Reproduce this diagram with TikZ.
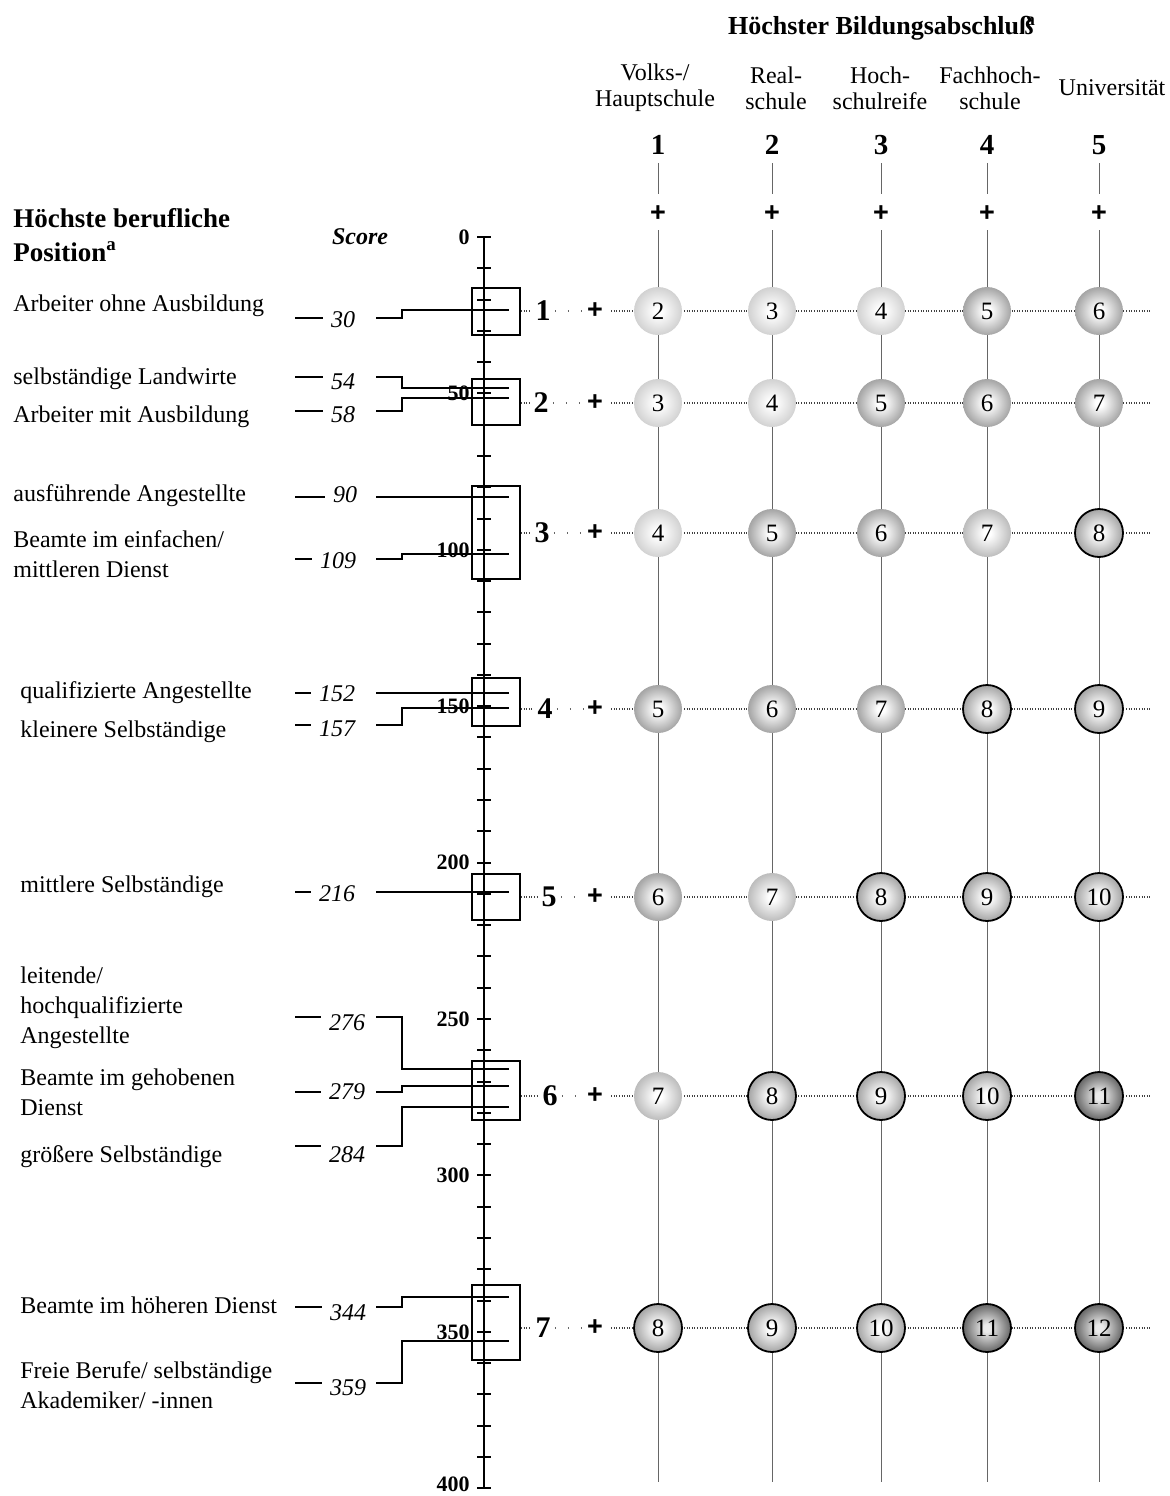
\documentclass[tikz,border=0pt]{standalone}
\usepackage{fontspec}
\setmainfont{Liberation Serif}
\setsansfont{Liberation Sans}

\colorlet{coreA}{white}
\colorlet{coreD}{black!8}
\colorlet{midA}{black!17}
\colorlet{edgeA}{black!33}
\colorlet{midM}{black!25}
\colorlet{edgeM}{black!43}
\colorlet{midB}{black!34}
\colorlet{edgeB}{black!56}
\colorlet{midD}{black!58}
\colorlet{edgeD}{black!88}
\pgfdeclareradialshading{ballA}{\pgfpoint{0bp}{0bp}}{color(0bp)=(coreA); color(4bp)=(coreA); color(24bp)=(midA); color(50bp)=(edgeA)}
\pgfdeclareradialshading{ballM}{\pgfpoint{0bp}{0bp}}{color(0bp)=(coreA); color(4bp)=(coreA); color(24bp)=(midM); color(50bp)=(edgeM)}
\pgfdeclareradialshading{ballB}{\pgfpoint{0bp}{0bp}}{color(0bp)=(coreA); color(4bp)=(coreA); color(24bp)=(midB); color(50bp)=(edgeB)}
\pgfdeclareradialshading{ballD}{\pgfpoint{0bp}{0bp}}{color(0bp)=(coreD); color(4bp)=(coreD); color(24bp)=(midD); color(50bp)=(edgeD)}

\begin{document}
\begin{tikzpicture}[x=0.5pt,y=-0.5pt,
    txt/.style={anchor=west,inner sep=0pt,align=left,font=\fontsize{12}{15}\selectfont},
    head/.style={inner sep=0pt,align=center,font=\fontsize{12}{13}\selectfont},
    colnum/.style={inner sep=0pt,font=\fontsize{14.5}{15}\selectfont\bfseries},
    grpnum/.style={inner sep=2pt,font=\fontsize{15}{15}\selectfont\bfseries},
    plus/.style={inner sep=0pt,font=\fontsize{13.5}{13}\selectfont\sffamily\bfseries},
    score/.style={inner sep=0pt,font=\fontsize{12}{12}\selectfont\itshape},
    axlabel/.style={anchor=east,inner sep=0pt,font=\fontsize{11}{11}\selectfont\bfseries},
    grpbox/.style={draw,line width=1pt,minimum width=24pt,inner sep=0pt},
    link/.style={line width=0.8pt},
    colline/.style={draw=black!60,line width=0.5pt},
    dotline/.style={draw=black!75,line width=0.6pt,dash pattern=on 0.5pt off 0.8pt},
    sparse/.style={draw=black!60,line width=0.6pt,dash pattern=on 0.5pt off 6pt},
    orb/.style={circle,minimum size=24pt,inner sep=0pt,font=\fontsize{12.5}{12}\selectfont},
    orbA/.style={orb,shade,shading=ballA},
    orbM/.style={orb,shade,shading=ballM},
    orbB/.style={orb,shade,shading=ballB},
    orbC/.style={orb,shade,shading=ballB,draw,line width=0.9pt},
    orbD/.style={orb,shade,shading=ballD,draw,line width=0.9pt}]
\useasboundingbox (0,0) rectangle (1170,1496);

\node[font=\fontsize{13}{13}\selectfont\bfseries] (title) at (882,28) {Höchster Bildungsabschlu\ss\kern-0.3em\textsuperscript{a}};
\node[head] (h1) at (655,88) {Volks-/\\Hauptschule};
\node[head] (h2) at (776,88) {Real-\\schule};
\node[head] (h3) at (880,88) {Hoch-\\schulreife};
\node[head] (h4) at (990,88) {Fachhoch-\\schule};
\node[head] (h5) at (1112,88) {Universität};

\foreach \kx [count=\kk] in {658,772,881,987,1099} {
  \node[colnum] (c\kk) at (\kx,145) {\kk};
  \node[plus] (cp\kk) at (\kx,214) {+};
  \coordinate (k\kk) at (\kx,1482);
  \draw[colline,shorten <=4pt,shorten >=6pt] (c\kk) -- (cp\kk);
  \draw[colline,shorten <=4pt] (cp\kk) -- (k\kk);
}

\node[txt,font=\fontsize{13.5}{17}\selectfont\bfseries] (pos) at (13,235) {Höchste berufliche\\Position\textsuperscript{a}};
\node[font=\fontsize{12}{12}\selectfont\bfseries\itshape] (sc) at (360,237) {Score};

\node[txt] (o1) at (13,306) {Arbeiter ohne Ausbildung};
\node[txt] (o2) at (13,379) {selbständige Landwirte};
\node[txt] (o3) at (13,417) {Arbeiter mit Ausbildung};
\node[txt] (o4) at (13,496) {ausführende Angestellte};
\node[txt] (o5) at (13,554) {Beamte im einfachen/\\mittleren Dienst};
\node[txt] (o6) at (20,693) {qualifizierte Angestellte};
\node[txt] (o7) at (20,732) {kleinere Selbständige};
\node[txt] (o8) at (20,887) {mittlere Selbständige};
\node[txt] (o9) at (20,1008) {leitende/\\hochqualifizierte\\Angestellte};
\node[txt] (o10) at (20,1092) {Beamte im gehobenen\\Dienst};
\node[txt] (o11) at (20,1157) {größere Selbständige};
\node[txt] (o12) at (20,1305) {Beamte im höheren Dienst};
\node[txt] (o13) at (20,1385) {Freie Berufe/ selbständige\\Akademiker/ -innen};

\node[grpbox,minimum height=23.5pt] (b1) at (496,311.5) {};
\node[grpbox,minimum height=23pt] (b2) at (496,402) {};
\node[grpbox,minimum height=46.5pt] (b3) at (496,532.5) {};
\node[grpbox,minimum height=24pt] (b4) at (496,702) {};
\node[grpbox,minimum height=23pt] (b5) at (496,897) {};
\node[grpbox,minimum height=29.5pt] (b6) at (496,1090.5) {};
\node[grpbox,minimum height=37.5pt] (b7) at (496,1322.5) {};

\foreach \sv/\nx/\ny/\dy/\ly in {30/343/320/318/310, 54/343/382/377/388, 58/343/415/411/398,
    90/345/495/497/497, 109/338/561/559/554, 152/337/694/693/693, 157/337/729/725/708,
    216/337/894/892/892, 276/347/1023/1017/1069, 279/347/1092/1092/1086, 284/347/1155/1146/1107,
    344/348/1313/1307/1297, 359/348/1388/1383/1341} {
  \node[score] (n\sv) at (\nx,\ny) {\sv};
  \coordinate (s\sv) at (376,\dy);
  \coordinate (e\sv) at (509,\ly);
  \draw[link,shorten >=4pt] (295,\dy) -- (n\sv.west |- s\sv);
  \draw[link] (s\sv) -- ++(26,0) |- (e\sv);
}

\draw[line width=1.25pt] (484,237) -- (484,1489);
\foreach \sv in {0,10,...,400}
  \draw[line width=1pt] (477,{237+3.128*\sv}) -- (491,{237+3.128*\sv});
\foreach \sv in {0,50,...,350}
  \node[axlabel] (a\sv) at (470,{237+3.128*\sv}) {\sv};
\node[axlabel] (a400) at (470,1484) {400};

\foreach \gg/\gx/\gy in {1/543/311,2/541/403,3/542/533,4/545/709,5/549/897,6/550/1096,7/543/1328} {
  \node[grpnum] (l\gg) at (\gx,\gy) {\gg};
  \node[plus] (p\gg) at (595,\gy) {+};
  \coordinate (r\gg) at (1150,\gy);
  \draw[dotline] (b\gg.east |- l\gg) -- (l\gg);
  \draw[sparse] (l\gg) -- (p\gg);
  \draw[dotline,shorten <=4pt] (p\gg) -- (r\gg);
}

\foreach \rr/\ry/\tones in {1/311/{A,A,A,B,B},2/403/{A,A,B,B,B},3/533/{A,B,B,M,C},
    4/709/{B,B,B,C,C},5/897/{B,M,C,C,C},6/1096/{M,C,C,C,D},7/1328/{C,C,C,D,D}}
  \foreach \tn [count=\cc] in \tones {
    \pgfmathtruncatemacro\vv{\rr+\cc}
    \pgfmathsetmacro\cx{{658,772,881,987,1099}[\cc-1]}
    \node[orb\tn] (v\rr\cc) at (\cx,\ry) {\vv};
  }
\end{tikzpicture}
\end{document}
